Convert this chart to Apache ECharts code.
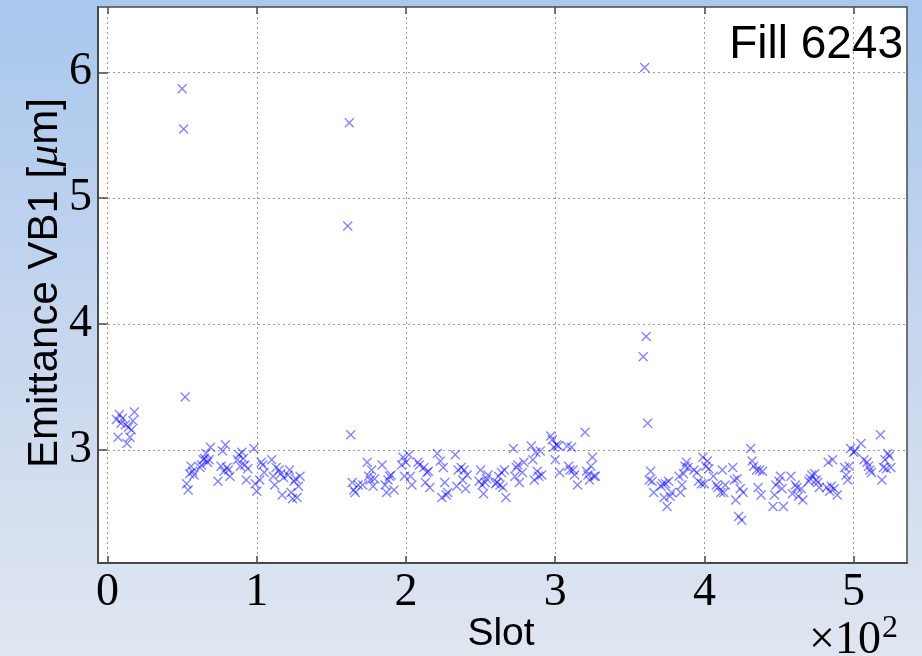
<!DOCTYPE html>
<html>
<head>
<meta charset="utf-8">
<script src="https://cdn.jsdelivr.net/npm/echarts@6/dist/echarts.min.js"></script>
<style>
  html, body { margin: 0; padding: 0; }
  #chart { width: 922px; height: 656px; }
</style>
</head>
<body>
<div id="chart"></div>
<script>
// Bunch slot numbers and the vertical emittance measured for each bunch (B1)
const slots = [
  6, 7, 8, 9, 10, 12, 13, 14, 15, 16, 17, 18,
  50, 51, 52,
  53, 54, 55, 56, 57, 58, 62, 63, 64, 65, 66, 67, 68, 69,
  74, 76, 77, 78, 79, 80, 81, 82, 87, 88, 89, 90, 91, 92, 93, 94,
  98, 99, 100, 102, 103, 104, 105, 110, 111, 112, 113, 115, 116, 117, 118,
  121, 122, 123, 124, 125, 126, 127, 128, 129,
  161, 162, 163,
  164, 165, 166, 168, 171, 174, 175, 176, 177, 178, 179,
  184, 186, 187, 188, 189, 190, 192, 197, 198, 199, 200, 202, 203, 204,
  208, 209, 212, 213, 214, 215, 216, 221, 223, 224, 225, 226, 227, 228,
  233, 234, 235, 237, 238, 239, 240, 241, 249, 250, 251, 252, 253, 254, 255,
  260, 261, 262, 263, 264, 265, 266, 267, 272, 273, 274, 275, 276, 278, 279,
  284, 285, 286, 287, 288, 289, 290, 291, 297, 298, 299, 300, 301, 302, 303,
  308, 309, 310, 311, 312, 313, 315, 320, 321, 322, 323, 324, 325, 326, 327,
  359, 360, 361, 362,
  363, 364, 365, 366, 371, 372, 373, 374, 375, 376, 377, 378,
  383, 384, 385, 386, 387, 388, 389, 393, 395, 396, 398, 399, 400, 401, 402, 403,
  406, 408, 409, 411, 412, 413, 414, 419, 420, 421, 422, 423, 424, 425, 426,
  431, 432, 433, 435, 436, 437, 438, 439,
  446, 447, 448, 450, 451, 452, 453,
  458, 459, 461, 462, 463, 465, 466,
  470, 471, 472, 474, 475, 476, 477,
  482, 483, 484, 485, 486, 487, 489,
  494, 495, 496, 497, 498, 500, 501,
  505, 507, 509, 510, 511, 512,
  518, 519, 520, 521, 522, 523, 524, 525
];
const emittance = [
  3.24, 3.10, 3.28, 3.21, 3.25, 3.20, 3.05, 3.18, 3.10, 3.16, 3.23, 3.30,
  5.87, 5.55, 3.42,
  2.73, 2.68, 2.81, 2.87, 2.83, 2.80, 2.86, 2.88, 2.92, 2.93, 2.97, 2.90, 2.92, 3.02,
  2.75, 2.87, 2.99, 2.83, 3.04, 2.86, 2.84, 2.79, 2.92, 2.96, 2.87, 2.98, 2.93, 2.88, 2.76, 2.85,
  3.01, 2.73, 2.67, 2.76, 2.90, 2.88, 2.82, 2.92, 2.79, 2.72, 2.86, 2.84, 2.81, 2.64, 2.78,
  2.80, 2.84, 2.66, 2.61, 2.75, 2.77, 2.62, 2.71, 2.79,
  4.78, 5.60, 3.12,
  2.74, 2.68, 2.66, 2.72, 2.72, 2.90, 2.79, 2.76, 2.84, 2.71, 2.77,
  2.88, 2.72, 2.66, 2.76, 2.79, 2.80, 2.68, 2.88, 2.94, 2.79, 2.90, 2.96, 2.79, 2.72,
  2.90, 2.88, 2.86, 2.74, 2.82, 2.83, 2.70, 2.97, 2.91, 2.62, 2.86, 2.74, 2.64, 2.66,
  2.96, 2.71, 2.84, 2.86, 2.76, 2.84, 2.69, 2.80, 2.75, 2.84, 2.72, 2.65, 2.74, 2.77, 2.80,
  2.73, 2.74, 2.79, 2.72, 2.82, 2.70, 2.84, 2.62, 3.01, 2.79, 2.86, 2.88, 2.74, 2.82, 2.90,
  3.03, 2.92, 2.76, 2.98, 2.83, 2.79, 2.99, 2.80, 3.11, 3.08, 3.02, 2.92, 3.04, 3.03, 2.82,
  3.03, 2.87, 2.84, 3.02, 2.84, 2.80, 2.72, 3.14, 2.83, 2.80, 2.76, 2.87, 2.94, 2.79, 2.79,
  3.74, 6.04, 3.90, 3.21,
  2.76, 2.83, 2.75, 2.66, 2.71, 2.73, 2.62, 2.73, 2.55, 2.75, 2.63, 2.66,
  2.79, 2.66, 2.72, 2.81, 2.87, 2.90, 2.86, 2.84, 2.82, 2.75, 2.73, 2.94, 2.73, 2.87, 2.91, 2.85,
  2.79, 2.72, 2.70, 2.66, 2.84, 2.66, 2.72, 2.86, 2.76, 2.60, 2.77, 2.47, 2.69, 2.44, 2.66,
  3.01, 2.91, 2.87, 2.84, 2.70, 2.84, 2.64, 2.83,
  2.55, 2.64, 2.72, 2.75, 2.79, 2.69, 2.55,
  2.79, 2.65, 2.72, 2.70, 2.63, 2.69, 2.60,
  2.75, 2.77, 2.80, 2.81, 2.76, 2.74, 2.70,
  2.70, 2.90, 2.67, 2.71, 2.92, 2.69, 2.64,
  2.86, 2.80, 2.76, 2.87, 3.01, 2.98, 2.99,
  3.05, 2.92, 2.90, 2.87, 2.84, 2.82,
  3.12, 2.76, 2.86, 2.92, 2.85, 2.97, 2.95, 2.86
];
// Tick positions (slot axis labelled in units of 10^2)
const xTicks = [0, 100, 200, 300, 400, 500];
const yTicks = [3, 4, 5, 6];
const fillLabel = 'Fill 6243';

const points = slots.map((s, i) => [s, emittance[i]]);

// thin "x" marker
const crossPath = 'path://M0,1L1,0L5,4L9,0L10,1L6,5L10,9L9,10L5,6L1,10L0,9L4,5Z';

const serif = '"Liberation Serif", "DejaVu Serif", serif';
const sans = '"Liberation Sans", Arial, sans-serif';
const frame = '#4a4a4a';

const chart = echarts.init(document.getElementById('chart'), null, { renderer: 'canvas' });

const innerTick = (vals) => ({
  show: true, inside: true, length: 7, customValues: vals,
  lineStyle: { color: frame, width: 1.5 }
});

chart.setOption({
  animation: false,
  backgroundColor: {
    type: 'linear', x: 0, y: 0, x2: 0, y2: 1,
    colorStops: [
      { offset: 0, color: '#a8c8ee' },
      { offset: 0.5, color: '#c6d6ee' },
      { offset: 1, color: '#e0e6f0' }
    ]
  },
  grid: {
    left: 98, top: 7, right: 15, bottom: 93,
    show: true, backgroundColor: '#ffffff',
    borderColor: frame, borderWidth: 1.5
  },
  xAxis: [
    {
      type: 'value', min: -6.4, max: 535.8,
      axisLine: { show: true, onZero: false, lineStyle: { color: frame, width: 2 } },
      axisTick: innerTick(xTicks),
      axisLabel: {
        customValues: xTicks, margin: 7,
        formatter: v => String(v / 100),
        fontFamily: serif, fontSize: 46, color: '#000'
      },
      splitLine: { show: true, lineStyle: { color: '#9a9a9a', type: [2, 3], width: 1 } }
    },
    {
      type: 'value', position: 'top', min: -6.4, max: 535.8,
      axisLine: { show: false },
      axisTick: innerTick(xTicks),
      axisLabel: { show: false },
      splitLine: { show: false }
    }
  ],
  yAxis: [
    {
      type: 'value', min: 2.1, max: 6.52,
      axisLine: { show: true, onZero: false, lineStyle: { color: frame, width: 2 } },
      axisTick: innerTick(yTicks),
      axisLabel: {
        customValues: yTicks, margin: 6,
        fontFamily: serif, fontSize: 46, color: '#000'
      },
      splitLine: { show: true, lineStyle: { color: '#9a9a9a', type: [2, 3], width: 1 } }
    },
    {
      type: 'value', position: 'right', min: 2.1, max: 6.52,
      axisLine: { show: false },
      axisTick: innerTick(yTicks),
      axisLabel: { show: false },
      splitLine: { show: false }
    }
  ],
  series: [{
    type: 'scatter',
    data: points,
    symbol: crossPath,
    symbolSize: 10,
    itemStyle: { color: 'rgba(0, 0, 255, 0.6)' }
  }],
  graphic: [
    {
      type: 'text', x: 45, y: 283, rotation: Math.PI / 2,
      style: {
        text: 'Emittance VB1 [{mu|μ}m]',
        fontFamily: sans, fontSize: 42, fill: '#000',
        align: 'center', verticalAlign: 'middle',
        rich: { mu: { fontFamily: serif, fontStyle: 'italic', fontSize: 44, fill: '#000' } }
      }
    },
    {
      type: 'text', x: 501, y: 634,
      style: { text: 'Slot', fontFamily: sans, fontSize: 39, fill: '#000', align: 'center', verticalAlign: 'middle' }
    },
    {
      type: 'text', x: 903, y: 45,
      style: { text: fillLabel, fontFamily: sans, fontSize: 46, fill: '#000', align: 'right', verticalAlign: 'middle' }
    },
    {
      type: 'text', x: 809, y: 641,
      style: { text: '×10', fontFamily: serif, fontSize: 46, fill: '#000', align: 'left', verticalAlign: 'middle' }
    },
    {
      type: 'text', x: 882, y: 629,
      style: { text: '2', fontFamily: serif, fontSize: 32, fill: '#000', align: 'left', verticalAlign: 'middle' }
    }
  ]
});
</script>
</body>
</html>
